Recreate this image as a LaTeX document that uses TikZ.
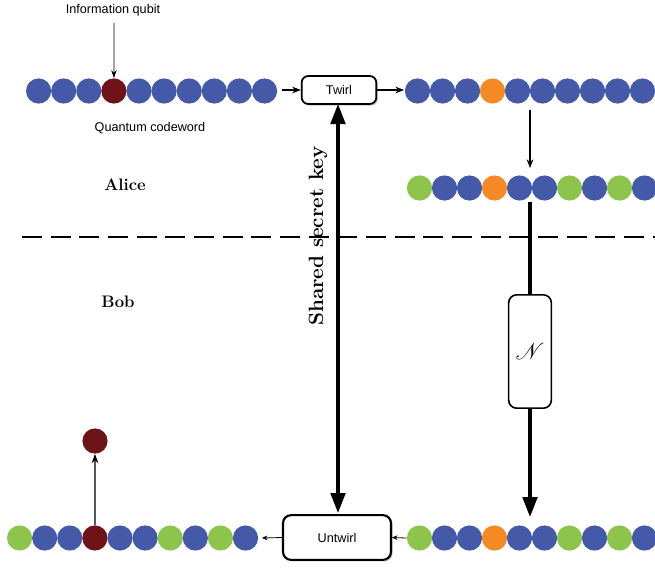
\documentclass[tikz,border=0pt]{standalone}
\usepackage{fontspec}
\usepackage{mathrsfs}
\newfontfamily\labfont{Liberation Sans}
\usetikzlibrary{arrows.meta,shadows}
\definecolor{qblue}{RGB}{68,90,168}
\definecolor{qred}{RGB}{110,20,24}
\definecolor{qorange}{RGB}{245,138,36}
\definecolor{qgreen}{RGB}{140,196,76}
\begin{document}
\begin{tikzpicture}[x=0.75pt,y=-0.75pt,
  qb/.style={circle,fill=#1,minimum size=18.9pt,inner sep=0pt},
  lab/.style={font=\labfont\fontsize{9.5pt}{11pt}\selectfont},
  who/.style={font=\fontsize{12.5pt}{15pt}\selectfont\bfseries},
  opbox/.style={draw,rounded corners=5pt,line width=1.3pt,fill=white,
     drop shadow={shadow xshift=1.2pt,shadow yshift=-1.2pt,fill=black!45},
     font=\labfont\fontsize{9.5pt}{11pt}\selectfont,inner sep=0pt},
  thinarr/.style={-{Stealth[length=6.5pt,width=5pt]},line width=0.9pt},
  thickline/.style={line width=2.3pt},
  bigtip/.style={-{Triangle[length=15pt,width=11pt]},line width=2.3pt}]
\useasboundingbox (0,0) rectangle (655,567);

% row 1
\foreach \c [count=\i] in {qblue,qblue,qblue,qred,qblue,qblue,qblue,qblue,qblue,qblue}
  \node[qb=\c] (a\i) at ({38.6+25.1*(\i-1)},91) {};
% row 2
\foreach \c [count=\i] in {qblue,qblue,qblue,qorange,qblue,qblue,qblue,qblue,qblue,qblue}
  \node[qb=\c] (b\i) at ({417.5+25*(\i-1)},91) {};
% row 3
\foreach \c [count=\i] in {qgreen,qblue,qblue,qorange,qblue,qblue,qgreen,qblue,qgreen,qblue}
  \node[qb=\c] (c\i) at ({419.5+25*(\i-1)},188) {};
% row 4 left
\foreach \c [count=\i] in {qgreen,qblue,qblue,qred,qblue,qblue,qgreen,qblue,qgreen,qblue}
  \node[qb=\c] (d\i) at ({19.6+25.1*(\i-1)},538) {};
% row 4 right
\foreach \c [count=\i] in {qgreen,qblue,qblue,qorange,qblue,qblue,qgreen,qblue,qgreen,qblue}
  \node[qb=\c] (e\i) at ({419.5+25*(\i-1)},538) {};
% extracted qubit
\node[qb=qred] (out) at (95,441) {};

% labels
\node[lab] (info) at (113,10) {Information qubit};
\node[lab] (qcw) at (150,128) {Quantum codeword};
\node[who] (alice) at (125,185) {Alice};
\node[who] (bob) at (118,302) {Bob};

% boxes
\node[opbox,minimum width=56pt,minimum height=21pt] (twirl) at (339,90) {Twirl};
\node[opbox,rounded corners=6pt,line width=1.6pt,minimum width=81pt,minimum height=33.5pt] (untwirl) at (337,537.5) {Untwirl};
\node[draw,rounded corners=6pt,line width=1.2pt,fill=white,minimum width=32pt,minimum height=85pt,inner sep=0pt,font=\fontsize{17pt}{20pt}\selectfont] (chan) at (530,351.5) {$\mathscr{N}$};

% dashed separator
\coordinate (dl) at (22,237);
\coordinate (dr) at (655,237);
\draw[line width=1.6pt,dash pattern=on 15pt off 6.5pt] (dl) -- (dr);

% connector end points
\coordinate (infos) at (113.9,23);
\coordinate (a10e) at (282,90);
\coordinate (b1w) at (404,90);
\coordinate (b2t) at (530,110);
\coordinate (c2t) at (530,168);
\coordinate (c3b) at (530,202);
\coordinate (chb) at (530,517);
\coordinate (d10e) at (262,538);
\coordinate (keytop) at (338,104);
\coordinate (keybot) at (338,513);

% arrows
\draw[-{Stealth[length=6pt,width=4pt]},line width=0.6pt] (infos) -- (a4.north);
\draw[thinarr] (a10e) -- (twirl.west);
\draw[thinarr] (twirl.east) -- (b1w);
\draw[thinarr] (b2t) -- (c2t);
\draw[thickline] (c3b) -- (chan.north);
\draw[bigtip] (chan.south) -- (chb);
\draw[{Triangle[length=15pt,width=11pt]}-{Triangle[length=15pt,width=11pt]},line width=2.3pt] (keytop) -- (keybot);
\node[rotate=90,font=\fontsize{15.5pt}{18pt}\selectfont\bfseries] (key) at (318,236) {Shared secret key};
\draw[-{Stealth[length=4pt,width=3.5pt]},line width=0.6pt] (e1.west) -- (untwirl.east);
\draw[-{Stealth[length=4pt,width=3.5pt]},line width=0.6pt] (untwirl.west) -- (d10e);
\draw[-{Stealth[length=7pt,width=5pt]},line width=0.9pt] (d4.north) -- (out.south);
\end{tikzpicture}
\end{document}
